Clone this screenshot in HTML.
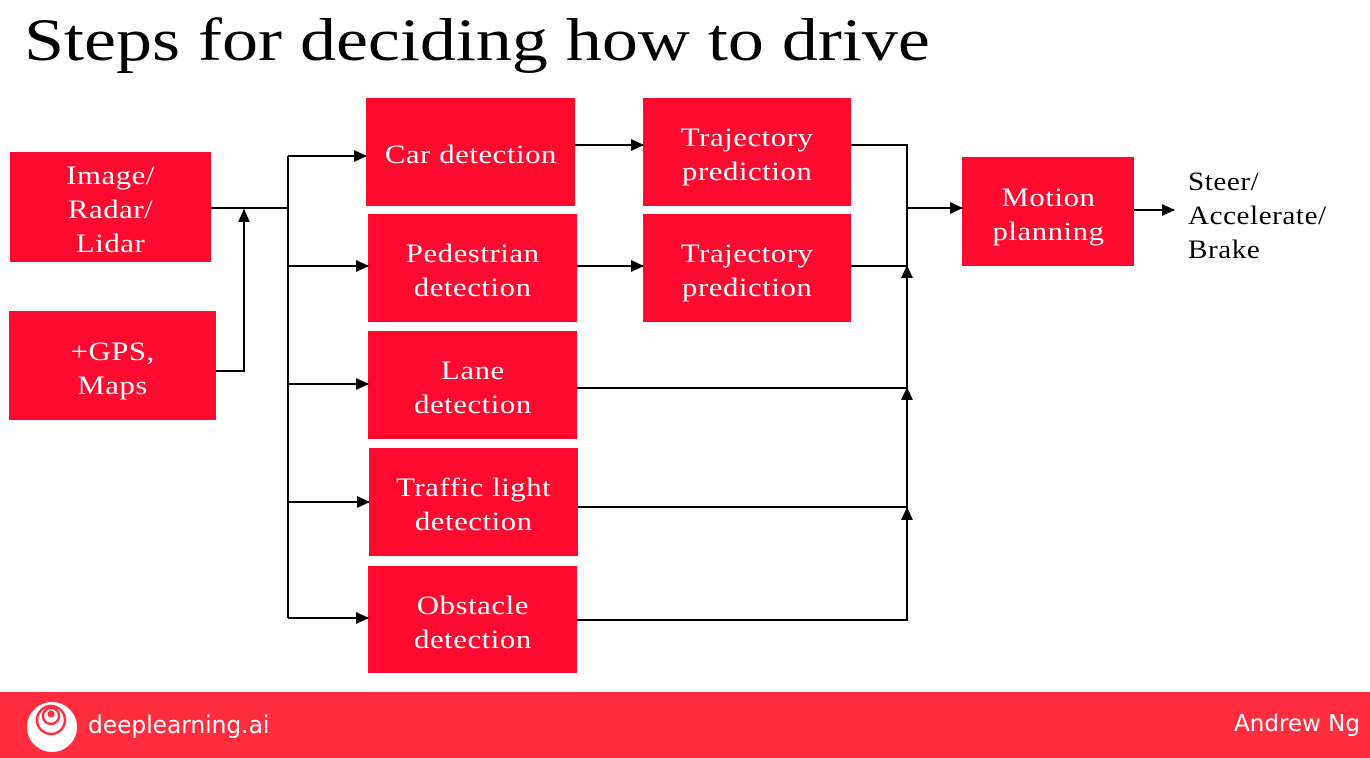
<!DOCTYPE html>
<html><head><style>
body{margin:0;width:1370px;height:758px;background:#fff;position:relative;overflow:hidden;font-family:"Liberation Serif",serif}
.b{position:absolute;background:#ff0a2e;color:#fff;display:flex;align-items:center;justify-content:center;text-align:center;font-size:26px;line-height:34px;letter-spacing:0.5px}
.b span{display:inline-block;transform:translateY(3px) scaleX(1.18)}
h1{position:absolute;left:24px;top:6px;margin:0;font-weight:normal;font-size:60px;color:#000;transform:scaleX(1.2);transform-origin:0 0;white-space:nowrap}
.f{position:absolute;left:0;top:692px;width:1370px;height:66px;background:#ff2d3d}
</style></head><body>
<h1>Steps for deciding how to drive</h1>
<div class="b" style="left:10px;top:152px;width:201px;height:110px"><span>Image/<br>Radar/<br>Lidar</span></div>
<div class="b" style="left:9px;top:311px;width:207px;height:109px"><span>+GPS,<br>Maps</span></div>
<div class="b" style="left:366px;top:98px;width:209px;height:108px"><span>Car detection</span></div>
<div class="b" style="left:368px;top:214px;width:209px;height:108px"><span>Pedestrian<br>detection</span></div>
<div class="b" style="left:368px;top:331px;width:209px;height:108px"><span>Lane<br>detection</span></div>
<div class="b" style="left:369px;top:448px;width:209px;height:108px"><span>Traffic light<br>detection</span></div>
<div class="b" style="left:368px;top:566px;width:209px;height:107px"><span>Obstacle<br>detection</span></div>
<div class="b" style="left:643px;top:98px;width:208px;height:108px"><span>Trajectory<br>prediction</span></div>
<div class="b" style="left:643px;top:214px;width:208px;height:108px"><span>Trajectory<br>prediction</span></div>
<div class="b" style="left:962px;top:157px;width:172px;height:109px"><span>Motion<br>planning</span></div>
<div style="position:absolute;left:1188px;top:165px;font-size:26px;line-height:34px;letter-spacing:0.5px;transform:scaleX(1.12);transform-origin:0 0">Steer/<br>Accelerate/<br>Brake</div>
<svg width="1370" height="758" style="position:absolute;left:0;top:0">
<defs><marker id="a" markerWidth="13" markerHeight="12" refX="12" refY="6" orient="auto" markerUnits="userSpaceOnUse"><path d="M0,0L13,6L0,12z"/></marker></defs>
<g stroke="#000" stroke-width="2" fill="none">
<path d="M211,208H288"/>
<path d="M216,371H244V210" marker-end="url(#a)"/>
<path d="M288,208V618"/>
<path d="M288,156H366" marker-end="url(#a)"/>
<path d="M288,156V208"/>
<path d="M288,266H368" marker-end="url(#a)"/>
<path d="M288,384H368" marker-end="url(#a)"/>
<path d="M288,502H369" marker-end="url(#a)"/>
<path d="M288,618H368" marker-end="url(#a)"/>
<path d="M575,145H643" marker-end="url(#a)"/>
<path d="M577,266H643" marker-end="url(#a)"/>
<path d="M851,145H907V388"/>
<path d="M907,208H962" marker-end="url(#a)"/>
<path d="M851,266H907"/>
<path d="M907,390V266" marker-end="url(#a)"/>
<path d="M577,388H907"/>
<path d="M907,508V388" marker-end="url(#a)"/>
<path d="M578,507H907"/>
<path d="M577,620H907V508" marker-end="url(#a)"/>
<path d="M1134,210H1174" marker-end="url(#a)"/>
</g></svg>
<div class="f"></div>
<svg width="52" height="52" style="position:absolute;left:26px;top:701px"><circle cx="26" cy="26" r="25" fill="#fff"/><circle cx="25" cy="19" r="14" fill="none" stroke="#ff2d3d" stroke-width="2.5"/><circle cx="25" cy="15" r="8" fill="none" stroke="#ff2d3d" stroke-width="2.5"/><circle cx="25" cy="13" r="3.5" fill="#ff2d3d"/></svg>
<div style="position:absolute;left:88px;top:711px;color:#fff;font-family:'DejaVu Sans','Liberation Sans',sans-serif;font-size:24px;transform:scaleX(0.97);transform-origin:0 0">deeplearning.ai</div>
<div style="position:absolute;right:10px;top:711px;color:#fff;font-family:'DejaVu Sans','Liberation Sans',sans-serif;font-size:23px">Andrew Ng</div>
</body></html>
